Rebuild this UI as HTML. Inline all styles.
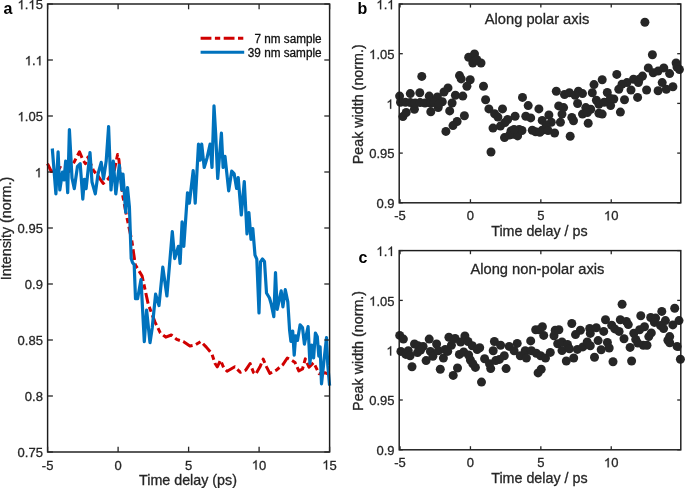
<!DOCTYPE html>
<html><head><meta charset="utf-8"><style>html,body{margin:0;padding:0;background:#fff;width:685px;height:488px;overflow:hidden}svg{display:block;will-change:transform}text{font-family:"Liberation Sans", sans-serif}</style></head>
<body><svg width="685" height="488" viewBox="0 0 685 488" font-family='"Liberation Sans", sans-serif'><polyline points="47.5,163.7 51.3,171.5 56.0,170.0 60.5,167.6 65.0,170.0 69.0,171.5 74.3,161.7 79.5,151.8 82.8,159.7 85.4,163.7 88.0,157.1 93.3,170.2 98.6,176.8 103.2,183.4 107.8,179.4 114.3,170.2 117.6,154.5 118.9,159.7 120.9,179.4 122.9,196.5 126.6,216.1 131.9,241.1 135.3,264.8 142.1,276.1 148.3,304.4 154.9,321.9 160.3,332.8 165.8,337.2 171.3,335.0 176.7,339.4 183.3,341.6 189.9,346.0 195.4,344.9 200.8,341.6 206.3,347.1 211.8,353.6 215.1,363.5 217.3,366.8 220.5,360.2 223.8,367.9 227.1,371.2 234.8,366.8 240.2,372.3 245.7,370.1 250.1,363.5 253.4,372.3 255.6,374.4 260.0,366.8 263.2,359.1 266.5,366.8 269.8,373.4 276.4,370.1 282.9,364.6 287.3,358.0 291.7,360.2 295.0,362.4 298.8,370.9 302.5,369.0 305.3,358.9 309.0,367.2 313.6,362.6 319.1,373.7 324.7,372.7 329.7,374.6" fill="none" stroke="#d00000" stroke-width="3.0" stroke-linejoin="round" stroke-dasharray="10.8,3.5,5.3,3.5"/>
<polyline points="52.3,148.5 55.9,193.9 58.1,151.8 59.8,190.0 62.5,172.0 64.0,180.0 65.7,161.0 67.7,192.6 69.4,129.6 72.0,178.0 74.3,188.6 77.5,166.3 80.2,163.7 82.8,199.1 84.4,179.4 86.1,188.6 90.0,152.5 92.0,182.0 95.3,193.9 98.0,174.0 101.2,162.3 103.5,179.0 106.2,161.0 108.6,126.6 111.0,190.0 113.3,161.0 115.8,194.0 119.3,165.0 121.8,190.0 123.0,174.0 125.7,212.4 127.5,187.5 129.4,206.9 131.2,258.6 132.5,262.6 134.2,264.8 135.5,298.7 137.6,298.7 141.0,279.5 144.3,341.6 146.6,310.0 150.0,342.7 152.2,328.0 155.6,294.2 159.0,305.5 162.8,267.2 166.9,296.0 172.3,231.6 174.7,258.6 178.4,246.3 180.1,263.5 182.1,221.8 183.8,246.3 187.5,192.8 189.4,203.1 193.2,170.5 195.2,203.2 198.5,144.1 200.2,160.1 201.7,144.1 204.2,167.5 207.1,157.7 210.1,144.1 212.0,167.5 214.0,105.9 215.7,134.3 217.7,178.5 221.4,133.1 223.1,167.5 225.0,156.4 228.7,190.8 231.7,171.2 234.1,173.6 236.6,188.4 238.2,177.5 241.3,215.0 244.3,181.5 247.0,233.9 248.9,212.6 251.0,239.3 252.8,228.6 255.0,255.2 256.8,259.2 259.0,313.0 260.5,262.0 262.5,259.0 264.5,261.5 266.5,293.0 269.5,298.0 271.3,304.4 273.8,316.7 275.5,272.5 277.2,309.3 281.2,290.9 282.9,306.9 285.3,289.7 287.8,301.9 289.6,330.3 290.9,341.4 292.7,331.2 294.2,355.2 295.7,335.8 297.5,340.4 300.1,324.8 302.5,327.5 304.4,344.1 308.1,326.6 309.9,363.5 311.8,345.1 313.6,358.0 315.4,333.1 317.3,336.8 318.8,356.1 320.1,346.9 321.5,383.8 323.7,363.5 326.5,337.7 327.8,365.4 329.6,385.6" fill="none" stroke="#0072bd" stroke-width="3.2" stroke-linejoin="round"/>
<circle cx="421.8" cy="76.4" r="4.5" fill="#262626"/>
<circle cx="410.3" cy="93.6" r="4.5" fill="#262626"/>
<circle cx="419.8" cy="92.8" r="4.5" fill="#262626"/>
<circle cx="399.6" cy="96.1" r="4.5" fill="#262626"/>
<circle cx="429.2" cy="96.1" r="4.5" fill="#262626"/>
<circle cx="437.4" cy="96.9" r="4.5" fill="#262626"/>
<circle cx="444.0" cy="92.0" r="4.5" fill="#262626"/>
<circle cx="448.0" cy="87.9" r="4.5" fill="#262626"/>
<circle cx="459.5" cy="75.6" r="4.5" fill="#262626"/>
<circle cx="461.2" cy="78.9" r="4.5" fill="#262626"/>
<circle cx="470.2" cy="79.7" r="4.5" fill="#262626"/>
<circle cx="466.9" cy="86.3" r="4.5" fill="#262626"/>
<circle cx="455.4" cy="95.3" r="4.5" fill="#262626"/>
<circle cx="462.8" cy="96.1" r="4.5" fill="#262626"/>
<circle cx="452.1" cy="103.0" r="4.5" fill="#262626"/>
<circle cx="449.7" cy="110.9" r="4.5" fill="#262626"/>
<circle cx="464.4" cy="115.8" r="4.5" fill="#262626"/>
<circle cx="457.1" cy="121.5" r="4.5" fill="#262626"/>
<circle cx="453.0" cy="125.6" r="4.5" fill="#262626"/>
<circle cx="445.9" cy="131.4" r="4.5" fill="#262626"/>
<circle cx="402.9" cy="116.6" r="4.5" fill="#262626"/>
<circle cx="406.2" cy="112.5" r="4.5" fill="#262626"/>
<circle cx="414.4" cy="109.2" r="4.5" fill="#262626"/>
<circle cx="430.8" cy="111.7" r="4.5" fill="#262626"/>
<circle cx="438.2" cy="107.6" r="4.5" fill="#262626"/>
<circle cx="442.3" cy="101.8" r="4.5" fill="#262626"/>
<circle cx="468.7" cy="57.2" r="4.5" fill="#262626"/>
<circle cx="474.5" cy="53.9" r="4.5" fill="#262626"/>
<circle cx="472.8" cy="63.0" r="4.5" fill="#262626"/>
<circle cx="481.0" cy="63.0" r="4.5" fill="#262626"/>
<circle cx="476.9" cy="59.7" r="4.5" fill="#262626"/>
<circle cx="485.6" cy="99.8" r="4.5" fill="#262626"/>
<circle cx="488.9" cy="108.9" r="4.5" fill="#262626"/>
<circle cx="494.6" cy="113.8" r="4.5" fill="#262626"/>
<circle cx="497.9" cy="117.1" r="4.5" fill="#262626"/>
<circle cx="502.5" cy="108.9" r="4.5" fill="#262626"/>
<circle cx="507.7" cy="119.5" r="4.5" fill="#262626"/>
<circle cx="515.1" cy="116.3" r="4.5" fill="#262626"/>
<circle cx="500.4" cy="126.1" r="4.5" fill="#262626"/>
<circle cx="493.0" cy="128.1" r="4.5" fill="#262626"/>
<circle cx="504.5" cy="137.6" r="4.5" fill="#262626"/>
<circle cx="511.0" cy="131.0" r="4.5" fill="#262626"/>
<circle cx="513.5" cy="134.3" r="4.5" fill="#262626"/>
<circle cx="519.2" cy="129.4" r="4.5" fill="#262626"/>
<circle cx="517.6" cy="135.9" r="4.5" fill="#262626"/>
<circle cx="509.4" cy="135.1" r="4.5" fill="#262626"/>
<circle cx="522.5" cy="97.4" r="4.5" fill="#262626"/>
<circle cx="528.2" cy="105.6" r="4.5" fill="#262626"/>
<circle cx="525.8" cy="116.3" r="4.5" fill="#262626"/>
<circle cx="530.7" cy="117.9" r="4.5" fill="#262626"/>
<circle cx="538.9" cy="108.9" r="4.5" fill="#262626"/>
<circle cx="532.3" cy="130.2" r="4.5" fill="#262626"/>
<circle cx="535.6" cy="131.8" r="4.5" fill="#262626"/>
<circle cx="542.2" cy="120.4" r="4.5" fill="#262626"/>
<circle cx="542.2" cy="130.2" r="4.5" fill="#262626"/>
<circle cx="491.0" cy="152.0" r="4.5" fill="#262626"/>
<circle cx="483.5" cy="86.3" r="4.5" fill="#262626"/>
<circle cx="556.3" cy="91.2" r="4.5" fill="#262626"/>
<circle cx="564.5" cy="94.5" r="4.5" fill="#262626"/>
<circle cx="569.4" cy="92.8" r="4.5" fill="#262626"/>
<circle cx="578.4" cy="91.2" r="4.5" fill="#262626"/>
<circle cx="582.5" cy="93.6" r="4.5" fill="#262626"/>
<circle cx="575.1" cy="95.3" r="4.5" fill="#262626"/>
<circle cx="577.6" cy="103.5" r="4.5" fill="#262626"/>
<circle cx="594.0" cy="84.6" r="4.5" fill="#262626"/>
<circle cx="602.2" cy="79.7" r="4.5" fill="#262626"/>
<circle cx="592.3" cy="92.8" r="4.5" fill="#262626"/>
<circle cx="596.4" cy="100.2" r="4.5" fill="#262626"/>
<circle cx="598.9" cy="104.3" r="4.5" fill="#262626"/>
<circle cx="585.8" cy="107.6" r="4.5" fill="#262626"/>
<circle cx="590.7" cy="109.2" r="4.5" fill="#262626"/>
<circle cx="582.5" cy="114.1" r="4.5" fill="#262626"/>
<circle cx="587.4" cy="112.5" r="4.5" fill="#262626"/>
<circle cx="598.9" cy="113.3" r="4.5" fill="#262626"/>
<circle cx="602.2" cy="114.1" r="4.5" fill="#262626"/>
<circle cx="588.2" cy="123.2" r="4.5" fill="#262626"/>
<circle cx="558.7" cy="105.9" r="4.5" fill="#262626"/>
<circle cx="563.6" cy="107.6" r="4.5" fill="#262626"/>
<circle cx="562.0" cy="114.1" r="4.5" fill="#262626"/>
<circle cx="571.8" cy="117.4" r="4.5" fill="#262626"/>
<circle cx="573.5" cy="120.7" r="4.5" fill="#262626"/>
<circle cx="560.4" cy="122.3" r="4.5" fill="#262626"/>
<circle cx="548.9" cy="115.0" r="4.5" fill="#262626"/>
<circle cx="551.3" cy="122.3" r="4.5" fill="#262626"/>
<circle cx="546.4" cy="125.6" r="4.5" fill="#262626"/>
<circle cx="554.6" cy="133.0" r="4.5" fill="#262626"/>
<circle cx="539.8" cy="132.2" r="4.5" fill="#262626"/>
<circle cx="548.0" cy="130.5" r="4.5" fill="#262626"/>
<circle cx="570.2" cy="136.3" r="4.5" fill="#262626"/>
<circle cx="652.4" cy="54.8" r="4.5" fill="#262626"/>
<circle cx="616.8" cy="74.4" r="4.5" fill="#262626"/>
<circle cx="648.3" cy="67.9" r="4.5" fill="#262626"/>
<circle cx="653.2" cy="72.8" r="4.5" fill="#262626"/>
<circle cx="658.1" cy="71.1" r="4.5" fill="#262626"/>
<circle cx="663.8" cy="67.9" r="4.5" fill="#262626"/>
<circle cx="669.6" cy="73.6" r="4.5" fill="#262626"/>
<circle cx="676.1" cy="63.0" r="4.5" fill="#262626"/>
<circle cx="677.0" cy="67.0" r="4.5" fill="#262626"/>
<circle cx="679.4" cy="69.5" r="4.5" fill="#262626"/>
<circle cx="642.5" cy="76.1" r="4.5" fill="#262626"/>
<circle cx="639.2" cy="79.3" r="4.5" fill="#262626"/>
<circle cx="633.5" cy="79.3" r="4.5" fill="#262626"/>
<circle cx="627.0" cy="82.6" r="4.5" fill="#262626"/>
<circle cx="622.0" cy="84.3" r="4.5" fill="#262626"/>
<circle cx="618.8" cy="89.2" r="4.5" fill="#262626"/>
<circle cx="631.0" cy="90.0" r="4.5" fill="#262626"/>
<circle cx="638.4" cy="82.6" r="4.5" fill="#262626"/>
<circle cx="646.6" cy="90.0" r="4.5" fill="#262626"/>
<circle cx="662.2" cy="82.6" r="4.5" fill="#262626"/>
<circle cx="658.1" cy="90.8" r="4.5" fill="#262626"/>
<circle cx="666.3" cy="89.2" r="4.5" fill="#262626"/>
<circle cx="672.9" cy="86.7" r="4.5" fill="#262626"/>
<circle cx="637.6" cy="97.4" r="4.5" fill="#262626"/>
<circle cx="624.5" cy="99.8" r="4.5" fill="#262626"/>
<circle cx="607.3" cy="92.5" r="4.5" fill="#262626"/>
<circle cx="613.8" cy="99.0" r="4.5" fill="#262626"/>
<circle cx="610.6" cy="105.6" r="4.5" fill="#262626"/>
<circle cx="620.4" cy="112.1" r="4.5" fill="#262626"/>
<circle cx="400.5" cy="102.2" r="4.5" fill="#262626"/>
<circle cx="405.4" cy="102.2" r="4.5" fill="#262626"/>
<circle cx="410.3" cy="102.6" r="4.5" fill="#262626"/>
<circle cx="415.2" cy="103.0" r="4.5" fill="#262626"/>
<circle cx="420.1" cy="102.6" r="4.5" fill="#262626"/>
<circle cx="425.0" cy="103.0" r="4.5" fill="#262626"/>
<circle cx="430.8" cy="103.4" r="4.5" fill="#262626"/>
<circle cx="434.0" cy="102.2" r="4.5" fill="#262626"/>
<circle cx="439.0" cy="103.9" r="4.5" fill="#262626"/>
<circle cx="604.2" cy="102.2" r="4.5" fill="#262626"/>
<circle cx="610.4" cy="98.5" r="4.5" fill="#262626"/>
<circle cx="644.9" cy="22.3" r="4.5" fill="#262626"/>
<circle cx="505.0" cy="122.5" r="4.5" fill="#262626"/>
<circle cx="522.0" cy="130.5" r="4.5" fill="#262626"/>
<circle cx="514.0" cy="129.5" r="4.5" fill="#262626"/>
<circle cx="399.7" cy="335.4" r="4.5" fill="#262626"/>
<circle cx="403.4" cy="339.1" r="4.5" fill="#262626"/>
<circle cx="400.9" cy="351.4" r="4.5" fill="#262626"/>
<circle cx="405.8" cy="354.4" r="4.5" fill="#262626"/>
<circle cx="408.3" cy="350.8" r="4.5" fill="#262626"/>
<circle cx="410.1" cy="355.7" r="4.5" fill="#262626"/>
<circle cx="414.5" cy="344.0" r="4.5" fill="#262626"/>
<circle cx="418.1" cy="345.8" r="4.5" fill="#262626"/>
<circle cx="417.5" cy="352.6" r="4.5" fill="#262626"/>
<circle cx="423.1" cy="346.5" r="4.5" fill="#262626"/>
<circle cx="420.6" cy="350.1" r="4.5" fill="#262626"/>
<circle cx="429.2" cy="339.1" r="4.5" fill="#262626"/>
<circle cx="426.1" cy="360.6" r="4.5" fill="#262626"/>
<circle cx="430.4" cy="351.4" r="4.5" fill="#262626"/>
<circle cx="432.9" cy="356.3" r="4.5" fill="#262626"/>
<circle cx="436.6" cy="344.0" r="4.5" fill="#262626"/>
<circle cx="438.4" cy="350.8" r="4.5" fill="#262626"/>
<circle cx="443.4" cy="358.1" r="4.5" fill="#262626"/>
<circle cx="445.2" cy="349.5" r="4.5" fill="#262626"/>
<circle cx="448.9" cy="337.2" r="4.5" fill="#262626"/>
<circle cx="412.0" cy="366.7" r="4.5" fill="#262626"/>
<circle cx="440.3" cy="369.2" r="4.5" fill="#262626"/>
<circle cx="455.1" cy="338.5" r="4.5" fill="#262626"/>
<circle cx="464.9" cy="336.0" r="4.5" fill="#262626"/>
<circle cx="460.6" cy="342.1" r="4.5" fill="#262626"/>
<circle cx="468.0" cy="341.5" r="4.5" fill="#262626"/>
<circle cx="472.3" cy="345.8" r="4.5" fill="#262626"/>
<circle cx="479.7" cy="347.7" r="4.5" fill="#262626"/>
<circle cx="477.2" cy="349.5" r="4.5" fill="#262626"/>
<circle cx="451.4" cy="345.2" r="4.5" fill="#262626"/>
<circle cx="447.7" cy="351.4" r="4.5" fill="#262626"/>
<circle cx="459.4" cy="354.4" r="4.5" fill="#262626"/>
<circle cx="463.7" cy="352.0" r="4.5" fill="#262626"/>
<circle cx="468.6" cy="355.0" r="4.5" fill="#262626"/>
<circle cx="470.4" cy="360.0" r="4.5" fill="#262626"/>
<circle cx="475.4" cy="367.4" r="4.5" fill="#262626"/>
<circle cx="457.5" cy="368.0" r="4.5" fill="#262626"/>
<circle cx="453.2" cy="375.4" r="4.5" fill="#262626"/>
<circle cx="481.5" cy="382.1" r="4.5" fill="#262626"/>
<circle cx="484.6" cy="358.8" r="4.5" fill="#262626"/>
<circle cx="490.7" cy="368.6" r="4.5" fill="#262626"/>
<circle cx="489.5" cy="363.7" r="4.5" fill="#262626"/>
<circle cx="493.2" cy="350.8" r="4.5" fill="#262626"/>
<circle cx="494.4" cy="341.5" r="4.5" fill="#262626"/>
<circle cx="495.7" cy="360.6" r="4.5" fill="#262626"/>
<circle cx="500.6" cy="345.2" r="4.5" fill="#262626"/>
<circle cx="504.3" cy="355.7" r="4.5" fill="#262626"/>
<circle cx="499.4" cy="359.4" r="4.5" fill="#262626"/>
<circle cx="506.1" cy="368.6" r="4.5" fill="#262626"/>
<circle cx="509.2" cy="346.4" r="4.5" fill="#262626"/>
<circle cx="517.2" cy="343.4" r="4.5" fill="#262626"/>
<circle cx="514.1" cy="350.8" r="4.5" fill="#262626"/>
<circle cx="520.3" cy="355.7" r="4.5" fill="#262626"/>
<circle cx="525.2" cy="350.8" r="4.5" fill="#262626"/>
<circle cx="526.4" cy="358.1" r="4.5" fill="#262626"/>
<circle cx="530.7" cy="340.9" r="4.5" fill="#262626"/>
<circle cx="531.4" cy="350.8" r="4.5" fill="#262626"/>
<circle cx="536.3" cy="353.2" r="4.5" fill="#262626"/>
<circle cx="540.6" cy="355.7" r="4.5" fill="#262626"/>
<circle cx="535.7" cy="329.8" r="4.5" fill="#262626"/>
<circle cx="542.4" cy="326.8" r="4.5" fill="#262626"/>
<circle cx="543.7" cy="335.4" r="4.5" fill="#262626"/>
<circle cx="538.1" cy="372.9" r="4.5" fill="#262626"/>
<circle cx="541.2" cy="369.2" r="4.5" fill="#262626"/>
<circle cx="545.5" cy="358.1" r="4.5" fill="#262626"/>
<circle cx="539.2" cy="329.7" r="4.5" fill="#262626"/>
<circle cx="554.0" cy="335.8" r="4.5" fill="#262626"/>
<circle cx="555.2" cy="330.3" r="4.5" fill="#262626"/>
<circle cx="558.9" cy="329.7" r="4.5" fill="#262626"/>
<circle cx="571.8" cy="323.5" r="4.5" fill="#262626"/>
<circle cx="580.4" cy="330.3" r="4.5" fill="#262626"/>
<circle cx="575.5" cy="334.6" r="4.5" fill="#262626"/>
<circle cx="589.7" cy="328.5" r="4.5" fill="#262626"/>
<circle cx="590.3" cy="333.4" r="4.5" fill="#262626"/>
<circle cx="557.7" cy="343.8" r="4.5" fill="#262626"/>
<circle cx="562.0" cy="342.0" r="4.5" fill="#262626"/>
<circle cx="567.5" cy="344.4" r="4.5" fill="#262626"/>
<circle cx="562.0" cy="350.6" r="4.5" fill="#262626"/>
<circle cx="569.4" cy="348.7" r="4.5" fill="#262626"/>
<circle cx="577.4" cy="349.4" r="4.5" fill="#262626"/>
<circle cx="582.9" cy="346.9" r="4.5" fill="#262626"/>
<circle cx="587.2" cy="342.0" r="4.5" fill="#262626"/>
<circle cx="590.3" cy="345.7" r="4.5" fill="#262626"/>
<circle cx="550.3" cy="352.4" r="4.5" fill="#262626"/>
<circle cx="566.3" cy="361.0" r="4.5" fill="#262626"/>
<circle cx="573.7" cy="358.0" r="4.5" fill="#262626"/>
<circle cx="622.1" cy="304.3" r="4.5" fill="#262626"/>
<circle cx="605.5" cy="319.7" r="4.5" fill="#262626"/>
<circle cx="620.3" cy="319.7" r="4.5" fill="#262626"/>
<circle cx="626.4" cy="321.5" r="4.5" fill="#262626"/>
<circle cx="628.3" cy="324.6" r="4.5" fill="#262626"/>
<circle cx="611.7" cy="325.2" r="4.5" fill="#262626"/>
<circle cx="614.8" cy="328.9" r="4.5" fill="#262626"/>
<circle cx="619.1" cy="331.4" r="4.5" fill="#262626"/>
<circle cx="596.3" cy="327.7" r="4.5" fill="#262626"/>
<circle cx="603.7" cy="331.4" r="4.5" fill="#262626"/>
<circle cx="598.1" cy="340.6" r="4.5" fill="#262626"/>
<circle cx="607.4" cy="342.4" r="4.5" fill="#262626"/>
<circle cx="609.2" cy="348.0" r="4.5" fill="#262626"/>
<circle cx="601.2" cy="349.8" r="4.5" fill="#262626"/>
<circle cx="624.0" cy="338.7" r="4.5" fill="#262626"/>
<circle cx="630.1" cy="347.4" r="4.5" fill="#262626"/>
<circle cx="633.8" cy="333.2" r="4.5" fill="#262626"/>
<circle cx="635.7" cy="339.4" r="4.5" fill="#262626"/>
<circle cx="594.5" cy="357.2" r="4.5" fill="#262626"/>
<circle cx="631.6" cy="361.0" r="4.5" fill="#262626"/>
<circle cx="640.8" cy="315.7" r="4.5" fill="#262626"/>
<circle cx="661.8" cy="311.4" r="4.5" fill="#262626"/>
<circle cx="674.7" cy="308.3" r="4.5" fill="#262626"/>
<circle cx="650.7" cy="317.5" r="4.5" fill="#262626"/>
<circle cx="655.6" cy="318.1" r="4.5" fill="#262626"/>
<circle cx="654.4" cy="322.4" r="4.5" fill="#262626"/>
<circle cx="665.4" cy="320.6" r="4.5" fill="#262626"/>
<circle cx="679.0" cy="320.6" r="4.5" fill="#262626"/>
<circle cx="672.8" cy="324.9" r="4.5" fill="#262626"/>
<circle cx="660.5" cy="325.5" r="4.5" fill="#262626"/>
<circle cx="663.6" cy="328.6" r="4.5" fill="#262626"/>
<circle cx="644.5" cy="326.8" r="4.5" fill="#262626"/>
<circle cx="639.6" cy="329.8" r="4.5" fill="#262626"/>
<circle cx="651.3" cy="332.9" r="4.5" fill="#262626"/>
<circle cx="648.8" cy="336.6" r="4.5" fill="#262626"/>
<circle cx="643.3" cy="345.2" r="4.5" fill="#262626"/>
<circle cx="647.0" cy="345.2" r="4.5" fill="#262626"/>
<circle cx="669.7" cy="336.6" r="4.5" fill="#262626"/>
<circle cx="667.9" cy="340.3" r="4.5" fill="#262626"/>
<circle cx="669.7" cy="342.7" r="4.5" fill="#262626"/>
<circle cx="677.1" cy="346.4" r="4.5" fill="#262626"/>
<circle cx="613.0" cy="361.7" r="4.5" fill="#262626"/>
<circle cx="680.4" cy="359.3" r="4.5" fill="#262626"/>
<circle cx="637.8" cy="343.1" r="4.5" fill="#262626"/>
<circle cx="472.8" cy="363.8" r="4.5" fill="#262626"/>
<rect x="47.60" y="4.00" width="282.00" height="448.00" fill="none" stroke="#1c1c1c" stroke-width="1.45"/>
<line x1="47.60" y1="452.00" x2="47.60" y2="446.70" stroke="#262626" stroke-width="1.3"/>
<line x1="47.60" y1="4.00" x2="47.60" y2="9.30" stroke="#262626" stroke-width="1.3"/>
<text x="41.82" y="469.50" font-size="13" fill="#262626" stroke="#262626" stroke-width="0.3">-</text>
<text x="46.15" y="469.50" font-size="13" fill="#262626" stroke="#262626" stroke-width="0.3">5</text>
<line x1="118.10" y1="452.00" x2="118.10" y2="446.70" stroke="#262626" stroke-width="1.3"/>
<line x1="118.10" y1="4.00" x2="118.10" y2="9.30" stroke="#262626" stroke-width="1.3"/>
<text x="114.49" y="469.50" font-size="13" fill="#262626" stroke="#262626" stroke-width="0.3">0</text>
<line x1="188.60" y1="452.00" x2="188.60" y2="446.70" stroke="#262626" stroke-width="1.3"/>
<line x1="188.60" y1="4.00" x2="188.60" y2="9.30" stroke="#262626" stroke-width="1.3"/>
<text x="184.99" y="469.50" font-size="13" fill="#262626" stroke="#262626" stroke-width="0.3">5</text>
<line x1="259.10" y1="452.00" x2="259.10" y2="446.70" stroke="#262626" stroke-width="1.3"/>
<line x1="259.10" y1="4.00" x2="259.10" y2="9.30" stroke="#262626" stroke-width="1.3"/>
<path d="M0.364 0L0.276 0L0.276 0.560Q0.200 0.492 0.100 0.456L0.100 0.540Q0.250 0.605 0.306 0.716L0.364 0.716Z" fill="#262626" stroke="#262626" stroke-width="0.0231" transform="translate(251.87,469.50) scale(13,-13)"/>
<text x="259.10" y="469.50" font-size="13" fill="#262626" stroke="#262626" stroke-width="0.3">0</text>
<line x1="329.60" y1="452.00" x2="329.60" y2="446.70" stroke="#262626" stroke-width="1.3"/>
<line x1="329.60" y1="4.00" x2="329.60" y2="9.30" stroke="#262626" stroke-width="1.3"/>
<path d="M0.364 0L0.276 0L0.276 0.560Q0.200 0.492 0.100 0.456L0.100 0.540Q0.250 0.605 0.306 0.716L0.364 0.716Z" fill="#262626" stroke="#262626" stroke-width="0.0231" transform="translate(322.37,469.50) scale(13,-13)"/>
<text x="329.60" y="469.50" font-size="13" fill="#262626" stroke="#262626" stroke-width="0.3">5</text>
<line x1="47.60" y1="452.00" x2="52.90" y2="452.00" stroke="#262626" stroke-width="1.3"/>
<line x1="329.60" y1="452.00" x2="324.30" y2="452.00" stroke="#262626" stroke-width="1.3"/>
<text x="17.60" y="457.30" font-size="13" fill="#262626" stroke="#262626" stroke-width="0.3">0</text>
<text x="24.83" y="457.30" font-size="13" fill="#262626" stroke="#262626" stroke-width="0.3">.</text>
<text x="28.44" y="457.30" font-size="13" fill="#262626" stroke="#262626" stroke-width="0.3">7</text>
<text x="35.67" y="457.30" font-size="13" fill="#262626" stroke="#262626" stroke-width="0.3">5</text>
<line x1="47.60" y1="396.00" x2="52.90" y2="396.00" stroke="#262626" stroke-width="1.3"/>
<line x1="329.60" y1="396.00" x2="324.30" y2="396.00" stroke="#262626" stroke-width="1.3"/>
<text x="24.83" y="401.30" font-size="13" fill="#262626" stroke="#262626" stroke-width="0.3">0</text>
<text x="32.06" y="401.30" font-size="13" fill="#262626" stroke="#262626" stroke-width="0.3">.</text>
<text x="35.67" y="401.30" font-size="13" fill="#262626" stroke="#262626" stroke-width="0.3">8</text>
<line x1="47.60" y1="340.00" x2="52.90" y2="340.00" stroke="#262626" stroke-width="1.3"/>
<line x1="329.60" y1="340.00" x2="324.30" y2="340.00" stroke="#262626" stroke-width="1.3"/>
<text x="17.60" y="345.30" font-size="13" fill="#262626" stroke="#262626" stroke-width="0.3">0</text>
<text x="24.83" y="345.30" font-size="13" fill="#262626" stroke="#262626" stroke-width="0.3">.</text>
<text x="28.44" y="345.30" font-size="13" fill="#262626" stroke="#262626" stroke-width="0.3">8</text>
<text x="35.67" y="345.30" font-size="13" fill="#262626" stroke="#262626" stroke-width="0.3">5</text>
<line x1="47.60" y1="284.00" x2="52.90" y2="284.00" stroke="#262626" stroke-width="1.3"/>
<line x1="329.60" y1="284.00" x2="324.30" y2="284.00" stroke="#262626" stroke-width="1.3"/>
<text x="24.83" y="289.30" font-size="13" fill="#262626" stroke="#262626" stroke-width="0.3">0</text>
<text x="32.06" y="289.30" font-size="13" fill="#262626" stroke="#262626" stroke-width="0.3">.</text>
<text x="35.67" y="289.30" font-size="13" fill="#262626" stroke="#262626" stroke-width="0.3">9</text>
<line x1="47.60" y1="228.00" x2="52.90" y2="228.00" stroke="#262626" stroke-width="1.3"/>
<line x1="329.60" y1="228.00" x2="324.30" y2="228.00" stroke="#262626" stroke-width="1.3"/>
<text x="17.60" y="233.30" font-size="13" fill="#262626" stroke="#262626" stroke-width="0.3">0</text>
<text x="24.83" y="233.30" font-size="13" fill="#262626" stroke="#262626" stroke-width="0.3">.</text>
<text x="28.44" y="233.30" font-size="13" fill="#262626" stroke="#262626" stroke-width="0.3">9</text>
<text x="35.67" y="233.30" font-size="13" fill="#262626" stroke="#262626" stroke-width="0.3">5</text>
<line x1="47.60" y1="172.00" x2="52.90" y2="172.00" stroke="#262626" stroke-width="1.3"/>
<line x1="329.60" y1="172.00" x2="324.30" y2="172.00" stroke="#262626" stroke-width="1.3"/>
<path d="M0.364 0L0.276 0L0.276 0.560Q0.200 0.492 0.100 0.456L0.100 0.540Q0.250 0.605 0.306 0.716L0.364 0.716Z" fill="#262626" stroke="#262626" stroke-width="0.0231" transform="translate(34.87,177.30) scale(13,-13)"/>
<line x1="47.60" y1="116.00" x2="52.90" y2="116.00" stroke="#262626" stroke-width="1.3"/>
<line x1="329.60" y1="116.00" x2="324.30" y2="116.00" stroke="#262626" stroke-width="1.3"/>
<path d="M0.364 0L0.276 0L0.276 0.560Q0.200 0.492 0.100 0.456L0.100 0.540Q0.250 0.605 0.306 0.716L0.364 0.716Z" fill="#262626" stroke="#262626" stroke-width="0.0231" transform="translate(17.60,121.30) scale(13,-13)"/>
<text x="24.83" y="121.30" font-size="13" fill="#262626" stroke="#262626" stroke-width="0.3">.</text>
<text x="28.44" y="121.30" font-size="13" fill="#262626" stroke="#262626" stroke-width="0.3">0</text>
<text x="35.67" y="121.30" font-size="13" fill="#262626" stroke="#262626" stroke-width="0.3">5</text>
<line x1="47.60" y1="60.00" x2="52.90" y2="60.00" stroke="#262626" stroke-width="1.3"/>
<line x1="329.60" y1="60.00" x2="324.30" y2="60.00" stroke="#262626" stroke-width="1.3"/>
<path d="M0.364 0L0.276 0L0.276 0.560Q0.200 0.492 0.100 0.456L0.100 0.540Q0.250 0.605 0.306 0.716L0.364 0.716Z" fill="#262626" stroke="#262626" stroke-width="0.0231" transform="translate(24.83,65.30) scale(13,-13)"/>
<text x="32.06" y="65.30" font-size="13" fill="#262626" stroke="#262626" stroke-width="0.3">.</text>
<path d="M0.364 0L0.276 0L0.276 0.560Q0.200 0.492 0.100 0.456L0.100 0.540Q0.250 0.605 0.306 0.716L0.364 0.716Z" fill="#262626" stroke="#262626" stroke-width="0.0231" transform="translate(35.67,65.30) scale(13,-13)"/>
<line x1="47.60" y1="4.00" x2="52.90" y2="4.00" stroke="#262626" stroke-width="1.3"/>
<line x1="329.60" y1="4.00" x2="324.30" y2="4.00" stroke="#262626" stroke-width="1.3"/>
<path d="M0.364 0L0.276 0L0.276 0.560Q0.200 0.492 0.100 0.456L0.100 0.540Q0.250 0.605 0.306 0.716L0.364 0.716Z" fill="#262626" stroke="#262626" stroke-width="0.0231" transform="translate(17.60,9.30) scale(13,-13)"/>
<text x="24.83" y="9.30" font-size="13" fill="#262626" stroke="#262626" stroke-width="0.3">.</text>
<path d="M0.364 0L0.276 0L0.276 0.560Q0.200 0.492 0.100 0.456L0.100 0.540Q0.250 0.605 0.306 0.716L0.364 0.716Z" fill="#262626" stroke="#262626" stroke-width="0.0231" transform="translate(28.44,9.30) scale(13,-13)"/>
<text x="35.67" y="9.30" font-size="13" fill="#262626" stroke="#262626" stroke-width="0.3">5</text>
<rect x="399.20" y="4.00" width="281.60" height="198.80" fill="none" stroke="#1c1c1c" stroke-width="1.45"/>
<line x1="400.04" y1="202.80" x2="400.04" y2="199.20" stroke="#262626" stroke-width="1.3"/>
<line x1="400.04" y1="4.00" x2="400.04" y2="7.60" stroke="#262626" stroke-width="1.3"/>
<text x="394.27" y="220.30" font-size="13" fill="#262626" stroke="#262626" stroke-width="0.3">-</text>
<text x="398.60" y="220.30" font-size="13" fill="#262626" stroke="#262626" stroke-width="0.3">5</text>
<line x1="470.44" y1="202.80" x2="470.44" y2="199.20" stroke="#262626" stroke-width="1.3"/>
<line x1="470.44" y1="4.00" x2="470.44" y2="7.60" stroke="#262626" stroke-width="1.3"/>
<text x="466.83" y="220.30" font-size="13" fill="#262626" stroke="#262626" stroke-width="0.3">0</text>
<line x1="540.84" y1="202.80" x2="540.84" y2="199.20" stroke="#262626" stroke-width="1.3"/>
<line x1="540.84" y1="4.00" x2="540.84" y2="7.60" stroke="#262626" stroke-width="1.3"/>
<text x="537.23" y="220.30" font-size="13" fill="#262626" stroke="#262626" stroke-width="0.3">5</text>
<line x1="611.24" y1="202.80" x2="611.24" y2="199.20" stroke="#262626" stroke-width="1.3"/>
<line x1="611.24" y1="4.00" x2="611.24" y2="7.60" stroke="#262626" stroke-width="1.3"/>
<path d="M0.364 0L0.276 0L0.276 0.560Q0.200 0.492 0.100 0.456L0.100 0.540Q0.250 0.605 0.306 0.716L0.364 0.716Z" fill="#262626" stroke="#262626" stroke-width="0.0231" transform="translate(604.02,220.30) scale(13,-13)"/>
<text x="611.24" y="220.30" font-size="13" fill="#262626" stroke="#262626" stroke-width="0.3">0</text>
<line x1="399.20" y1="202.80" x2="402.80" y2="202.80" stroke="#262626" stroke-width="1.3"/>
<line x1="680.80" y1="202.80" x2="677.20" y2="202.80" stroke="#262626" stroke-width="1.3"/>
<text x="376.43" y="208.10" font-size="13" fill="#262626" stroke="#262626" stroke-width="0.3">0</text>
<text x="383.66" y="208.10" font-size="13" fill="#262626" stroke="#262626" stroke-width="0.3">.</text>
<text x="387.27" y="208.10" font-size="13" fill="#262626" stroke="#262626" stroke-width="0.3">9</text>
<line x1="399.20" y1="153.10" x2="402.80" y2="153.10" stroke="#262626" stroke-width="1.3"/>
<line x1="680.80" y1="153.10" x2="677.20" y2="153.10" stroke="#262626" stroke-width="1.3"/>
<text x="369.20" y="158.40" font-size="13" fill="#262626" stroke="#262626" stroke-width="0.3">0</text>
<text x="376.43" y="158.40" font-size="13" fill="#262626" stroke="#262626" stroke-width="0.3">.</text>
<text x="380.04" y="158.40" font-size="13" fill="#262626" stroke="#262626" stroke-width="0.3">9</text>
<text x="387.27" y="158.40" font-size="13" fill="#262626" stroke="#262626" stroke-width="0.3">5</text>
<line x1="399.20" y1="103.40" x2="402.80" y2="103.40" stroke="#262626" stroke-width="1.3"/>
<line x1="680.80" y1="103.40" x2="677.20" y2="103.40" stroke="#262626" stroke-width="1.3"/>
<path d="M0.364 0L0.276 0L0.276 0.560Q0.200 0.492 0.100 0.456L0.100 0.540Q0.250 0.605 0.306 0.716L0.364 0.716Z" fill="#262626" stroke="#262626" stroke-width="0.0231" transform="translate(386.47,108.70) scale(13,-13)"/>
<line x1="399.20" y1="53.70" x2="402.80" y2="53.70" stroke="#262626" stroke-width="1.3"/>
<line x1="680.80" y1="53.70" x2="677.20" y2="53.70" stroke="#262626" stroke-width="1.3"/>
<path d="M0.364 0L0.276 0L0.276 0.560Q0.200 0.492 0.100 0.456L0.100 0.540Q0.250 0.605 0.306 0.716L0.364 0.716Z" fill="#262626" stroke="#262626" stroke-width="0.0231" transform="translate(369.20,59.00) scale(13,-13)"/>
<text x="376.43" y="59.00" font-size="13" fill="#262626" stroke="#262626" stroke-width="0.3">.</text>
<text x="380.04" y="59.00" font-size="13" fill="#262626" stroke="#262626" stroke-width="0.3">0</text>
<text x="387.27" y="59.00" font-size="13" fill="#262626" stroke="#262626" stroke-width="0.3">5</text>
<line x1="399.20" y1="4.00" x2="402.80" y2="4.00" stroke="#262626" stroke-width="1.3"/>
<line x1="680.80" y1="4.00" x2="677.20" y2="4.00" stroke="#262626" stroke-width="1.3"/>
<path d="M0.364 0L0.276 0L0.276 0.560Q0.200 0.492 0.100 0.456L0.100 0.540Q0.250 0.605 0.306 0.716L0.364 0.716Z" fill="#262626" stroke="#262626" stroke-width="0.0231" transform="translate(376.43,9.30) scale(13,-13)"/>
<text x="383.66" y="9.30" font-size="13" fill="#262626" stroke="#262626" stroke-width="0.3">.</text>
<path d="M0.364 0L0.276 0L0.276 0.560Q0.200 0.492 0.100 0.456L0.100 0.540Q0.250 0.605 0.306 0.716L0.364 0.716Z" fill="#262626" stroke="#262626" stroke-width="0.0231" transform="translate(387.27,9.30) scale(13,-13)"/>
<rect x="399.20" y="250.60" width="281.60" height="199.20" fill="none" stroke="#1c1c1c" stroke-width="1.45"/>
<line x1="400.04" y1="449.80" x2="400.04" y2="446.20" stroke="#262626" stroke-width="1.3"/>
<line x1="400.04" y1="250.60" x2="400.04" y2="254.20" stroke="#262626" stroke-width="1.3"/>
<text x="394.27" y="467.30" font-size="13" fill="#262626" stroke="#262626" stroke-width="0.3">-</text>
<text x="398.60" y="467.30" font-size="13" fill="#262626" stroke="#262626" stroke-width="0.3">5</text>
<line x1="470.44" y1="449.80" x2="470.44" y2="446.20" stroke="#262626" stroke-width="1.3"/>
<line x1="470.44" y1="250.60" x2="470.44" y2="254.20" stroke="#262626" stroke-width="1.3"/>
<text x="466.83" y="467.30" font-size="13" fill="#262626" stroke="#262626" stroke-width="0.3">0</text>
<line x1="540.84" y1="449.80" x2="540.84" y2="446.20" stroke="#262626" stroke-width="1.3"/>
<line x1="540.84" y1="250.60" x2="540.84" y2="254.20" stroke="#262626" stroke-width="1.3"/>
<text x="537.23" y="467.30" font-size="13" fill="#262626" stroke="#262626" stroke-width="0.3">5</text>
<line x1="611.24" y1="449.80" x2="611.24" y2="446.20" stroke="#262626" stroke-width="1.3"/>
<line x1="611.24" y1="250.60" x2="611.24" y2="254.20" stroke="#262626" stroke-width="1.3"/>
<path d="M0.364 0L0.276 0L0.276 0.560Q0.200 0.492 0.100 0.456L0.100 0.540Q0.250 0.605 0.306 0.716L0.364 0.716Z" fill="#262626" stroke="#262626" stroke-width="0.0231" transform="translate(604.02,467.30) scale(13,-13)"/>
<text x="611.24" y="467.30" font-size="13" fill="#262626" stroke="#262626" stroke-width="0.3">0</text>
<line x1="399.20" y1="449.80" x2="402.80" y2="449.80" stroke="#262626" stroke-width="1.3"/>
<line x1="680.80" y1="449.80" x2="677.20" y2="449.80" stroke="#262626" stroke-width="1.3"/>
<text x="376.43" y="455.10" font-size="13" fill="#262626" stroke="#262626" stroke-width="0.3">0</text>
<text x="383.66" y="455.10" font-size="13" fill="#262626" stroke="#262626" stroke-width="0.3">.</text>
<text x="387.27" y="455.10" font-size="13" fill="#262626" stroke="#262626" stroke-width="0.3">9</text>
<line x1="399.20" y1="400.00" x2="402.80" y2="400.00" stroke="#262626" stroke-width="1.3"/>
<line x1="680.80" y1="400.00" x2="677.20" y2="400.00" stroke="#262626" stroke-width="1.3"/>
<text x="369.20" y="405.30" font-size="13" fill="#262626" stroke="#262626" stroke-width="0.3">0</text>
<text x="376.43" y="405.30" font-size="13" fill="#262626" stroke="#262626" stroke-width="0.3">.</text>
<text x="380.04" y="405.30" font-size="13" fill="#262626" stroke="#262626" stroke-width="0.3">9</text>
<text x="387.27" y="405.30" font-size="13" fill="#262626" stroke="#262626" stroke-width="0.3">5</text>
<line x1="399.20" y1="350.20" x2="402.80" y2="350.20" stroke="#262626" stroke-width="1.3"/>
<line x1="680.80" y1="350.20" x2="677.20" y2="350.20" stroke="#262626" stroke-width="1.3"/>
<path d="M0.364 0L0.276 0L0.276 0.560Q0.200 0.492 0.100 0.456L0.100 0.540Q0.250 0.605 0.306 0.716L0.364 0.716Z" fill="#262626" stroke="#262626" stroke-width="0.0231" transform="translate(386.47,355.50) scale(13,-13)"/>
<line x1="399.20" y1="300.40" x2="402.80" y2="300.40" stroke="#262626" stroke-width="1.3"/>
<line x1="680.80" y1="300.40" x2="677.20" y2="300.40" stroke="#262626" stroke-width="1.3"/>
<path d="M0.364 0L0.276 0L0.276 0.560Q0.200 0.492 0.100 0.456L0.100 0.540Q0.250 0.605 0.306 0.716L0.364 0.716Z" fill="#262626" stroke="#262626" stroke-width="0.0231" transform="translate(369.20,305.70) scale(13,-13)"/>
<text x="376.43" y="305.70" font-size="13" fill="#262626" stroke="#262626" stroke-width="0.3">.</text>
<text x="380.04" y="305.70" font-size="13" fill="#262626" stroke="#262626" stroke-width="0.3">0</text>
<text x="387.27" y="305.70" font-size="13" fill="#262626" stroke="#262626" stroke-width="0.3">5</text>
<line x1="399.20" y1="250.60" x2="402.80" y2="250.60" stroke="#262626" stroke-width="1.3"/>
<line x1="680.80" y1="250.60" x2="677.20" y2="250.60" stroke="#262626" stroke-width="1.3"/>
<path d="M0.364 0L0.276 0L0.276 0.560Q0.200 0.492 0.100 0.456L0.100 0.540Q0.250 0.605 0.306 0.716L0.364 0.716Z" fill="#262626" stroke="#262626" stroke-width="0.0231" transform="translate(376.43,255.90) scale(13,-13)"/>
<text x="383.66" y="255.90" font-size="13" fill="#262626" stroke="#262626" stroke-width="0.3">.</text>
<path d="M0.364 0L0.276 0L0.276 0.560Q0.200 0.492 0.100 0.456L0.100 0.540Q0.250 0.605 0.306 0.716L0.364 0.716Z" fill="#262626" stroke="#262626" stroke-width="0.0231" transform="translate(387.27,255.90) scale(13,-13)"/>
<text x="188.0" y="484.8" font-size="14.3" text-anchor="middle" font-weight="normal" fill="#262626" stroke="#262626" stroke-width="0.3">Time delay (ps)</text>
<text x="539.4" y="236.0" font-size="14.3" text-anchor="middle" font-weight="normal" fill="#262626" stroke="#262626" stroke-width="0.3">Time delay / ps</text>
<text x="539.4" y="483.0" font-size="14.3" text-anchor="middle" font-weight="normal" fill="#262626" stroke="#262626" stroke-width="0.3">Time delay / ps</text>
<text x="0" y="0" font-size="14.3" text-anchor="middle" font-weight="normal" fill="#262626" stroke="#262626" stroke-width="0.3" transform="translate(10.8,228.5) rotate(-90)">Intensity (norm.)</text>
<text x="0" y="0" font-size="14.3" text-anchor="middle" font-weight="normal" fill="#262626" stroke="#262626" stroke-width="0.3" transform="translate(362.5,104.3) rotate(-90)">Peak width (norm.)</text>
<text x="0" y="0" font-size="14.3" text-anchor="middle" font-weight="normal" fill="#262626" stroke="#262626" stroke-width="0.3" transform="translate(362.5,350.9) rotate(-90)">Peak width (norm.)</text>
<text x="3.4" y="13.7" font-size="16" text-anchor="start" font-weight="bold" fill="#000">a</text>
<text x="357.6" y="13.7" font-size="16" text-anchor="start" font-weight="bold" fill="#000">b</text>
<text x="358.4" y="263" font-size="16" text-anchor="start" font-weight="bold" fill="#000">c</text>
<text x="537" y="24.4" font-size="14.7" text-anchor="middle" font-weight="normal" fill="#262626" stroke="#262626" stroke-width="0.3">Along polar axis</text>
<text x="537.4" y="274.2" font-size="14.7" text-anchor="middle" font-weight="normal" fill="#262626" stroke="#262626" stroke-width="0.3">Along non-polar axis</text>
<polyline points="200.6,38.2 244.2,38.2" fill="none" stroke="#d00000" stroke-width="3.0" stroke-linejoin="round" stroke-dasharray="10.8,3.5,5.3,3.5"/>
<polyline points="200.6,52.3 244.2,52.3" fill="none" stroke="#0072bd" stroke-width="2.9" stroke-linejoin="round"/>
<text x="321.6" y="42.5" font-size="12" text-anchor="end" font-weight="normal" fill="#111" textLength="67.0" lengthAdjust="spacingAndGlyphs" stroke="#111" stroke-width="0.3">7 nm sample</text>
<text x="321.6" y="56.8" font-size="12" text-anchor="end" font-weight="normal" fill="#111" textLength="73.8" lengthAdjust="spacingAndGlyphs" stroke="#111" stroke-width="0.3">39 nm sample</text></svg></body></html>
